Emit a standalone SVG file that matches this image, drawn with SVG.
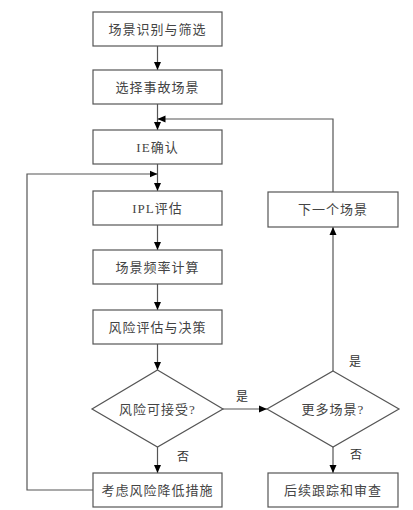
<svg xmlns="http://www.w3.org/2000/svg" width="413" height="510" viewBox="0 0 413 510">
<defs>
<marker id="ah" markerWidth="8" markerHeight="8" viewBox="0 0 8 8" refX="8" refY="4" orient="auto" markerUnits="userSpaceOnUse">
<path d="M0,0.5 L8,4 L0,7.5 Z" fill="#000"/>
</marker>
<style>
.box{fill:#fff;stroke:#555;stroke-width:1.2}
.t{font-family:"Liberation Serif","Noto Sans CJK SC",serif;font-size:13px;fill:#444;text-anchor:middle;dominant-baseline:central;letter-spacing:1px}
.lbl{font-family:"Liberation Serif","Noto Sans CJK SC",serif;font-size:12px;fill:#333;text-anchor:middle;dominant-baseline:central}
.c{fill:none;stroke:#555;stroke-width:1.2}
.ca{fill:none;stroke:#555;stroke-width:1.2;marker-end:url(#ah)}
</style>
</defs>
<rect width="413" height="510" fill="#fff"/>
<g id="connectors">
<line class="ca" x1="157.5" y1="46" x2="157.5" y2="70"/>
<line class="ca" x1="157.5" y1="104" x2="157.5" y2="130"/>
<line class="ca" x1="157.5" y1="164" x2="157.5" y2="191"/>
<line class="ca" x1="157.5" y1="225" x2="157.5" y2="250"/>
<line class="ca" x1="157.5" y1="284" x2="157.5" y2="310"/>
<line class="ca" x1="157.5" y1="344" x2="157.5" y2="370"/>
<line class="ca" x1="157.5" y1="447" x2="157.5" y2="473"/>
<line class="ca" x1="223" y1="409" x2="267" y2="409"/>
<line class="ca" x1="333" y1="371" x2="333" y2="227"/>
<line class="ca" x1="333" y1="447" x2="333" y2="473"/>
<polyline class="ca" points="333,192 333,119 157.5,119"/>
<polyline class="ca" points="93,490 27,490 27,174 157.5,174"/>
<text class="lbl" x="242" y="397">是</text>
<text class="lbl" x="183" y="457">否</text>
<text class="lbl" x="355" y="362">是</text>
<text class="lbl" x="356" y="455">否</text>
</g>
<g id="n1"><rect class="box" x="93" y="12" width="129" height="34"/><text class="t" x="157.5" y="29">场景识别与筛选</text></g>
<g id="n2"><rect class="box" x="93" y="70" width="129" height="34"/><text class="t" x="157.5" y="87">选择事故场景</text></g>
<g id="n3"><rect class="box" x="93" y="130" width="129" height="34"/><text class="t" x="157.5" y="147">IE确认</text></g>
<g id="n4"><rect class="box" x="93" y="191" width="129" height="34"/><text class="t" x="157.5" y="208">IPL评估</text></g>
<g id="n5"><rect class="box" x="93" y="250" width="129" height="34"/><text class="t" x="157.5" y="267">场景频率计算</text></g>
<g id="n6"><rect class="box" x="93" y="310" width="129" height="34"/><text class="t" x="157.5" y="327">风险评估与决策</text></g>
<g id="d1"><polygon class="box" points="157.5,370 223,409 157.5,447 92,409"/><text class="t" x="157.5" y="409">风险可接受?</text></g>
<g id="n7"><rect class="box" x="93" y="473" width="129" height="34"/><text class="t" x="157.5" y="490">考虑风险降低措施</text></g>
<g id="n8"><rect class="box" x="268" y="192" width="130" height="35"/><text class="t" x="333" y="209.5">下一个场景</text></g>
<g id="d2"><polygon class="box" points="333,371 399,409 333,447 267,409"/><text class="t" x="333" y="409">更多场景?</text></g>
<g id="n9"><rect class="box" x="268" y="473" width="130" height="34"/><text class="t" x="333" y="490">后续跟踪和审查</text></g>
</svg>
